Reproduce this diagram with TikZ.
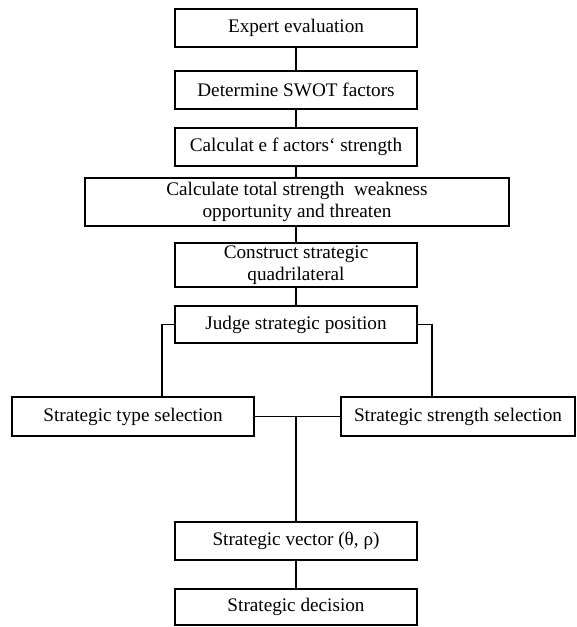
\documentclass[tikz,border=0pt]{standalone}
\usepackage{fontspec}
\setmainfont{Liberation Serif}
\begin{document}
\begin{tikzpicture}[x=0.75pt,y=-0.75pt,
  box/.style={draw,line width=1.1pt,inner sep=0pt,align=center,
    font=\fontsize{14.4}{16.5}\selectfont},
  conn/.style={line width=1.1pt}]
\useasboundingbox (0,0) rectangle (577,627);
\node[box,minimum width=242*0.75pt,minimum height=38*0.75pt] (expert) at (296,28) {Expert evaluation};
\node[box,minimum width=242*0.75pt,minimum height=38*0.75pt] (swot) at (296,90) {Determine SWOT factors};
\node[box,minimum width=242*0.75pt,minimum height=38*0.75pt] (calc) at (296,147) {Calculat e f actors‘ strength};
\node[box,minimum width=424*0.75pt,minimum height=48*0.75pt] (total) at (297,202) {Calculate total strength~ weakness\\opportunity and threaten};
\node[box,minimum width=242*0.75pt,minimum height=44*0.75pt] (construct) at (296,265) {Construct strategic\\quadrilateral};
\node[box,minimum width=242*0.75pt,minimum height=37*0.75pt] (judge) at (296,324.5) {Judge strategic position};
\node[box,minimum width=242*0.75pt,minimum height=39*0.75pt] (type) at (133,416.5) {Strategic type selection};
\node[box,minimum width=234*0.75pt,minimum height=39*0.75pt] (strength) at (458,416.5) {Strategic strength selection};
\node[box,minimum width=242*0.75pt,minimum height=38*0.75pt] (vector) at (296,541) {Strategic vector (θ, ρ)};
\node[box,minimum width=242*0.75pt,minimum height=36*0.75pt] (decision) at (296,607) {Strategic decision};
\coordinate (jl) at (162,324.5);
\coordinate (jr) at (432,324.5);
\coordinate (mid) at (296,416.5);
\draw[conn] (expert) -- (swot);
\draw[conn] (swot) -- (calc);
\draw[conn] (calc.south) -- (calc.south |- total.north);
\draw[conn] (total.south -| construct.north) -- (construct.north);
\draw[conn] (construct) -- (judge);
\draw[conn] (judge.west) -- (jl) -- (jl |- type.north);
\draw[conn] (judge.east) -- (jr) -- (jr |- strength.north);
\draw[conn] (type.east) -- (strength.west);
\draw[conn] (mid) -- (vector.north);
\draw[conn] (vector) -- (decision);
\end{tikzpicture}
\end{document}
